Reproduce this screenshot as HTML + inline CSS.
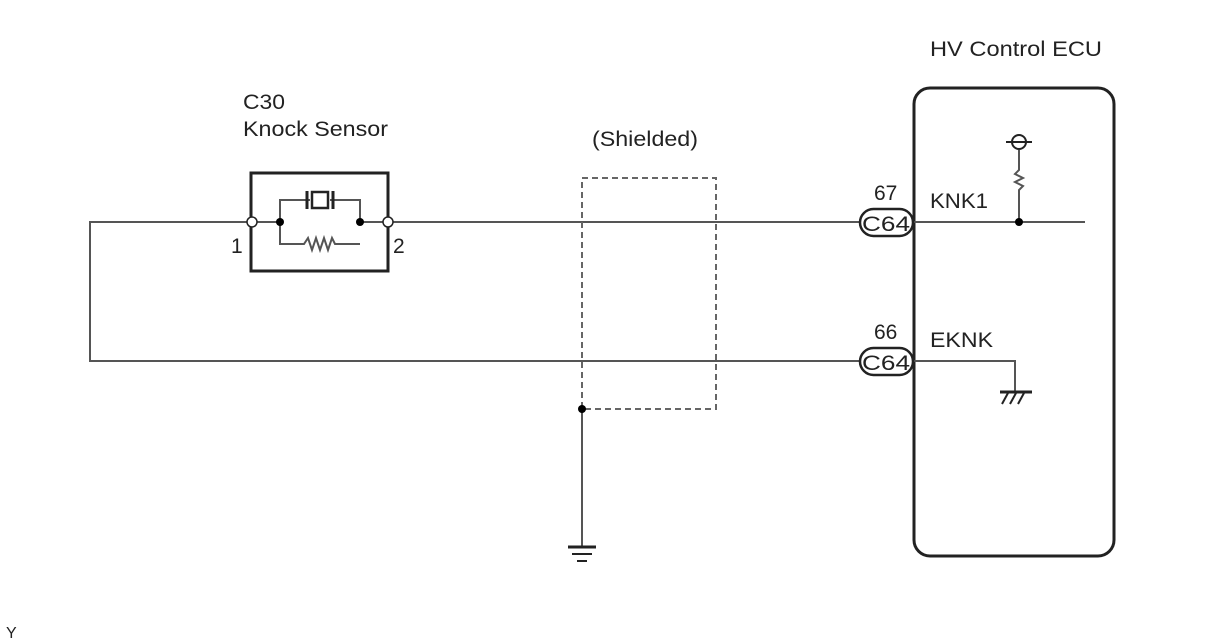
<!DOCTYPE html>
<html><head><style>body{margin:0;background:#fff}svg{display:block}text{font-family:"Liberation Sans",sans-serif;fill:#222}</style></head>
<body>
<svg width="1208" height="644" viewBox="0 0 1208 644" xmlns="http://www.w3.org/2000/svg">
<g stroke="#555" stroke-width="2" fill="none">
<polyline points="248,222 90,222 90,361 860,361"/>
<line x1="390" y1="222" x2="860" y2="222"/>
<rect x="582" y="178" width="134" height="231" stroke-dasharray="6,4" stroke="#666"/>
<line x1="582" y1="409" x2="582" y2="547"/>
<rect x="251" y="173" width="137" height="98" stroke="#222" stroke-width="3"/>
<line x1="255" y1="222" x2="280" y2="222"/>
<line x1="360" y1="222" x2="386" y2="222"/>
<polyline points="280,222 280,200 310,200"/>
<polyline points="330,200 360,200 360,222"/>
<polyline points="280,222 280,244 304,244 308,238 312,250 316,238 320,250 324,238 328,250 332,238 335,244 360,244"/>
<rect x="914" y="88" width="200" height="468" rx="16" stroke="#222" stroke-width="3"/>
<line x1="914" y1="222" x2="1085" y2="222"/>
<line x1="1019" y1="222" x2="1019" y2="196"/>
<polyline points="1019,196 1019,190 1023,186 1015,182 1023,178 1015,174 1019,170 1019,150"/>
<circle cx="1019" cy="142" r="7" stroke="#222"/>
<line x1="1006" y1="142" x2="1032" y2="142" stroke="#222"/>
<polyline points="914,361 1015,361 1015,392"/>
</g>
<g stroke="#222" stroke-width="3">
<line x1="307" y1="191" x2="307" y2="209"/><line x1="333" y1="191" x2="333" y2="209"/>
<line x1="1000" y1="392" x2="1032" y2="392"/>
<line x1="568" y1="547" x2="596" y2="547"/>
</g>
<rect x="312" y="192" width="16" height="16" fill="none" stroke="#222" stroke-width="2.5"/>
<g stroke="#222" stroke-width="2"><line x1="572" y1="554" x2="592" y2="554"/><line x1="577" y1="561" x2="587" y2="561"/>
<line x1="1008" y1="393" x2="1002" y2="404"/><line x1="1016" y1="393" x2="1010" y2="404"/><line x1="1024" y1="393" x2="1018" y2="404"/></g>
<circle cx="252" cy="222" r="5" fill="#fff" stroke="#222" stroke-width="1.5"/>
<circle cx="388" cy="222" r="5" fill="#fff" stroke="#222" stroke-width="1.5"/>
<circle cx="280" cy="222" r="4" fill="#000"/><circle cx="360" cy="222" r="4" fill="#000"/>
<circle cx="1019" cy="222" r="4" fill="#000"/><circle cx="582" cy="409" r="4" fill="#000"/>
<rect x="860" y="209" width="53" height="27" rx="13.5" fill="#fff" stroke="#222" stroke-width="2.5"/>
<rect x="860" y="348" width="53" height="27" rx="13.5" fill="#fff" stroke="#222" stroke-width="2.5"/>
<g font-size="21">
<text x="243" y="109" textLength="42" lengthAdjust="spacingAndGlyphs">C30</text>
<text x="243" y="136" textLength="145" lengthAdjust="spacingAndGlyphs">Knock Sensor</text>
<text x="592" y="146" textLength="106" lengthAdjust="spacingAndGlyphs">(Shielded)</text>
<text x="930" y="56" textLength="172" lengthAdjust="spacingAndGlyphs">HV Control ECU</text>
<text x="231" y="253">1</text><text x="393" y="253">2</text>
<text x="874" y="200">67</text><text x="874" y="339">66</text>
<text x="862" y="231" textLength="48" lengthAdjust="spacingAndGlyphs">C64</text>
<text x="862" y="370" textLength="48" lengthAdjust="spacingAndGlyphs">C64</text>
<text x="930" y="208" textLength="58" lengthAdjust="spacingAndGlyphs">KNK1</text>
<text x="930" y="347" textLength="63" lengthAdjust="spacingAndGlyphs">EKNK</text>
<text x="6" y="638" font-size="16">Y</text>
</g>
</svg>
</body></html>
